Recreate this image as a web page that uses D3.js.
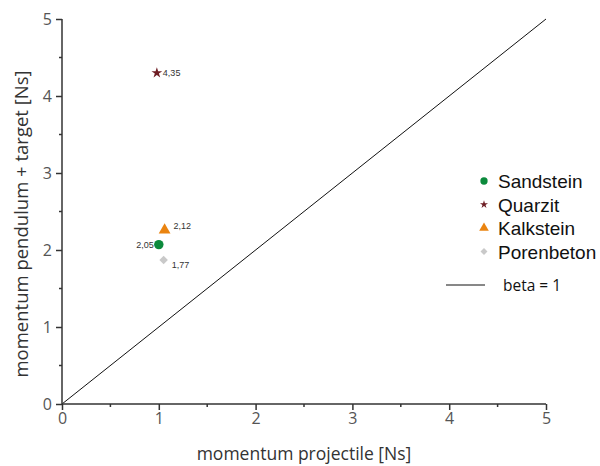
<!DOCTYPE html>
<html>
<head>
<meta charset="utf-8">
<script src="https://cdn.jsdelivr.net/npm/d3@7"></script>
<style>
  body { margin: 0; background: #fff; }
  svg text { font-family: "Open Sans", sans-serif; }
</style>
</head>
<body>
<div id="chart"></div>
<script>
const materials = ["Sandstein", "Quarzit", "Kalkstein", "Porenbeton"]
const projectileMomentum = [1.0, 0.98, 1.06, 1.05]
const targetMomentum = [2.07, 4.30, 2.26, 1.87]
const pointLabels = ["2,05", "4,35", "2,12", "1,77"]
const markerColors = ["#0b8a3c", "#6e1d24", "#ea8410", "#c9c9c9"]
const tickValues = [0, 1, 2, 3, 4, 5]
const minorTicks = [0.5, 1.5, 2.5, 3.5, 4.5]
const betaLine = [[0, 0], [5, 5]]

const width = 600, height = 466
const margin = { left: 62, top: 19, right: 54, bottom: 62 }

const svg = d3.select("#chart").append("svg")
    .attr("width", width)
    .attr("height", height)

const x = d3.scaleLinear().domain([0, 5]).range([margin.left, width - margin.right])
const y = d3.scaleLinear().domain([0, 5]).range([height - margin.bottom, margin.top])

// beta = 1 line
svg.append("path")
    .datum(betaLine)
    .attr("fill", "none")
    .attr("stroke", "#111")
    .attr("stroke-width", 1)
    .attr("d", d3.line().x(d => x(d[0])).y(d => y(d[1])))

//---- axes ----
const xAxis = svg.append("g")
    .attr("transform", "translate(0," + y(0) + ")")
    .call(d3.axisBottom(x).tickValues(tickValues).tickSize(6).tickPadding(3).tickFormat(d3.format("d")))
xAxis.append("g").selectAll("line").data(minorTicks).enter().append("line")
    .attr("x1", d => x(d)).attr("x2", d => x(d)).attr("y1", 0).attr("y2", 3)
    .attr("stroke", "#333").attr("stroke-width", 1.5)

const yAxis = svg.append("g")
    .attr("transform", "translate(" + x(0) + ",0)")
    .call(d3.axisLeft(y).tickValues(tickValues).tickSize(6).tickPadding(4).tickFormat(d3.format("d")))
yAxis.append("g").selectAll("line").data(minorTicks).enter().append("line")
    .attr("y1", d => y(d)).attr("y2", d => y(d)).attr("x1", 0).attr("x2", -3)
    .attr("stroke", "#333").attr("stroke-width", 1.5)

svg.selectAll(".domain").attr("stroke", "#333").attr("stroke-width", 1.5)
svg.selectAll(".tick line").attr("stroke", "#333").attr("stroke-width", 1.5)
svg.selectAll(".tick text")
    .style("font-family", "'Open Sans', sans-serif")
    .style("font-size", "16px")
    .attr("fill", "#555")
// remove outer tick ends of the domain path
xAxis.select(".domain").attr("d", "M" + x(0) + ",0H" + x(5))
yAxis.select(".domain").attr("d", "M0," + y(0) + "V" + y(5))

// axis titles
svg.append("text")
    .attr("x", (x(0) + x(5)) / 2)
    .attr("y", 460)
    .attr("text-anchor", "middle")
    .style("font-size", "17.5px")
    .attr("fill", "#333")
    .text("momentum projectile [Ns]")

svg.append("text")
    .attr("transform", "translate(28,224) rotate(-90)")
    .attr("text-anchor", "middle")
    .style("font-size", "18.5px")
    .attr("fill", "#333")
    .text("momentum pendulum + target [Ns]")

//---- markers ----
const shapes = [d3.symbolCircle, d3.symbolStar, d3.symbolTriangle, d3.symbolSquare]
const rotation = [0, 0, 0, 45]
const symbol = (i, s) => d3.symbol().type(shapes[i]).size(s)()

const plotSizes = [70, 36, 60, 36]
const pts = svg.append("g").selectAll("g")
    .data(materials)
    .enter().append("g")
    .attr("transform", (d, i) => "translate(" + x(projectileMomentum[i]) + "," + y(targetMomentum[i]) + ")")

pts.append("path")
    .attr("d", (d, i) => symbol(i, plotSizes[i]))
    .attr("transform", (d, i) => "rotate(" + rotation[i] + ")")
    .attr("fill", (d, i) => markerColors[i])

// value labels next to each point
const labelOffset = [[-5, 3, "end"], [6, 3, "start"], [9, -1, "start"], [8, 8, "start"]]
pts.append("text")
    .attr("x", (d, i) => labelOffset[i][0])
    .attr("y", (d, i) => labelOffset[i][1])
    .attr("text-anchor", (d, i) => labelOffset[i][2])
    .style("font-family", "'Liberation Sans', Arial, sans-serif")
    .style("font-size", "9px")
    .attr("fill", "#333")
    .text((d, i) => pointLabels[i])

//---- legend ----
const legendSizes = [42, 20, 40, 24]
const legend = svg.append("g").attr("transform", "translate(484,181)")
const rows = legend.selectAll("g").data(materials).enter().append("g")
    .attr("transform", (d, i) => "translate(0," + i * 23.5 + ")")
rows.append("path")
    .attr("d", (d, i) => symbol(i, legendSizes[i]))
    .attr("transform", (d, i) => "rotate(" + rotation[i] + ")")
    .attr("fill", (d, i) => markerColors[i])
rows.append("text")
    .attr("x", 14)
    .attr("y", 7)
    .style("font-family", "'Liberation Sans', Arial, sans-serif")
    .style("font-size", "19px")
    .attr("fill", "#111")
    .text(d => d)

svg.append("line")
    .attr("x1", 446).attr("x2", 485).attr("y1", 285).attr("y2", 285)
    .attr("stroke", "#111").attr("stroke-width", 1)
svg.append("text")
    .attr("x", 503).attr("y", 290.5)
    .style("font-size", "15.5px")
    .attr("fill", "#111")
    .text("beta = 1")
</script>
</body>
</html>
